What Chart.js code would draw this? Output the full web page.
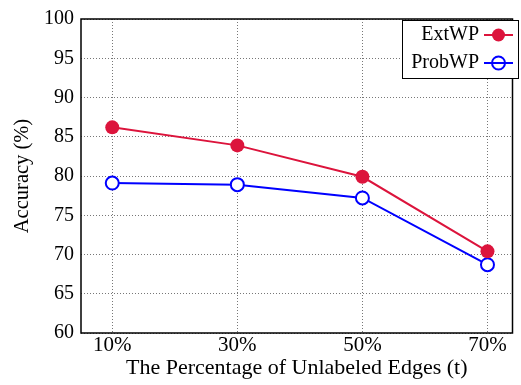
<!DOCTYPE html>
<html>
<head>
<meta charset="utf-8">
<script src="https://cdn.jsdelivr.net/npm/chart.js@4/dist/chart.umd.min.js"></script>
<style>
html,body{margin:0;padding:0;background:#fff;}
#wrap{width:521px;height:385px;}
</style>
</head>
<body>
<div id="wrap"><canvas id="c" width="521" height="385"></canvas></div>
<script>
const categories = [10, 30, 50, 70];
const tickLabels = ['10%', '30%', '50%', '70%'];
const extWP = [86.2, 83.9, 79.9, 70.4];
const probWP = [79.1, 78.9, 77.2, 68.7];
const yTicks = [60, 65, 70, 75, 80, 85, 90, 95, 100];

const FONT = 'Liberation Serif';
const RED = '#DC143C';
const BLUE = '#0000FF';

const frame = {
  id: 'frame',
  afterDatasetsDraw(chart) {
    const {ctx, chartArea: a} = chart;
    ctx.save();
    ctx.strokeStyle = '#000';
    ctx.lineWidth = 1.5;
    ctx.strokeRect(a.left, a.top, a.right - a.left, a.bottom - a.top);
    ctx.restore();
  },
  afterDraw(chart) {
    const {ctx} = chart;
    const bx = 402, by = 20, bw = 116, bh = 58;
    ctx.save();
    ctx.fillStyle = '#fff';
    ctx.fillRect(bx, by, bw, bh);
    ctx.strokeStyle = '#000';
    ctx.lineWidth = 1;
    ctx.strokeRect(bx + 0.5, by + 0.5, bw, bh);
    ctx.font = '20px "' + FONT + '"';
    ctx.textAlign = 'right';
    ctx.textBaseline = 'middle';
    ctx.fillStyle = '#000';
    chart.data.datasets.forEach((ds, i) => {
      const y = 35 + i * 28;
      ctx.fillText(ds.label, 479, y);
      ctx.strokeStyle = ds.borderColor;
      ctx.lineWidth = 2;
      ctx.beginPath();
      ctx.moveTo(484, y);
      ctx.lineTo(513, y);
      ctx.stroke();
      ctx.beginPath();
      ctx.arc(498.5, y, 6.5, 0, Math.PI * 2);
      if (ds.pointBackgroundColor !== '#fff') {
        ctx.fillStyle = ds.pointBackgroundColor;
        ctx.fill();
      } else {
        ctx.stroke();
      }
      ctx.fillStyle = '#000';
    });
    ctx.restore();
  }
};

new Chart(document.getElementById('c'), {
  type: 'line',
  data: {
    datasets: [
      {
        label: 'ExtWP',
        data: categories.map((x, i) => ({x, y: extWP[i]})),
        borderColor: RED,
        backgroundColor: RED,
        pointBackgroundColor: RED,
        pointBorderColor: RED,
        pointRadius: 7,
        pointBorderWidth: 0,
        borderWidth: 2
      },
      {
        label: 'ProbWP',
        data: categories.map((x, i) => ({x, y: probWP[i]})),
        borderColor: BLUE,
        backgroundColor: BLUE,
        pointBackgroundColor: '#fff',
        pointBorderColor: BLUE,
        pointRadius: 6.5,
        pointBorderWidth: 2,
        borderWidth: 2
      }
    ]
  },
  options: {
    responsive: false,
    animation: false,
    devicePixelRatio: 1,
    layout: {padding: {top: 16, right: 2, left: 0, bottom: 0}},
    plugins: {legend: {display: false}, tooltip: {enabled: false}},
    scales: {
      x: {
        type: 'linear',
        min: 5, max: 74,
        afterBuildTicks(s) { s.ticks = categories.map(v => ({value: v})); },
        afterFit(s) { s.height = 52; },
        border: {display: false, dash: [1, 2]},
        grid: {color: '#777', lineWidth: 1, drawTicks: false},
        ticks: {
          padding: 0,
          color: '#000',
          font: {family: FONT, size: 21},
          maxRotation: 0,
          callback: (v) => tickLabels[categories.indexOf(v)] ?? ''
        },
        title: {display: true, text: 'The Percentage of Unlabeled Edges (t)', color: '#000', font: {family: FONT, size: 22}, padding: {top: 0, bottom: 4}}
      },
      y: {
        min: 60, max: 100,
        afterBuildTicks(s) { s.ticks = yTicks.map(v => ({value: v})); },
        afterFit(s) { s.width = 81; },
        border: {display: false, dash: [1, 2]},
        grid: {color: '#777', lineWidth: 1, drawTicks: false},
        ticks: {padding: 7, color: '#000', font: {family: FONT, size: 20}},
        title: {display: true, text: 'Accuracy (%)', color: '#000', font: {family: FONT, size: 20.5}, padding: {top: 10, bottom: 0}}
      }
    }
  },
  plugins: [frame]
});
</script>
</body>
</html>
